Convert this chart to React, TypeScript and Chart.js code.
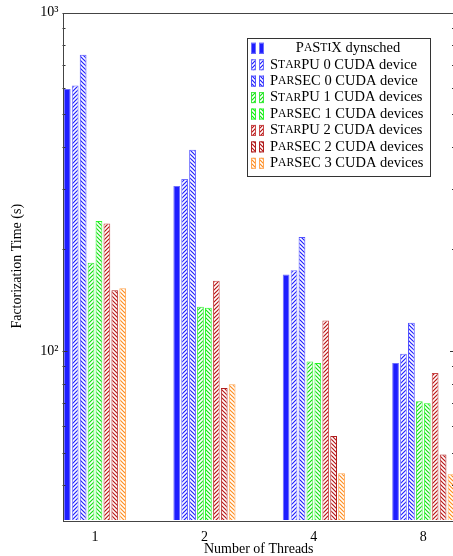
import React, { useEffect, useRef } from 'react';
import { Chart, registerables } from 'chart.js';
Chart.register(...registerables);

const threads = ['1', '2', '4', '8'];
const pastix = [594, 307, 168, 92];
const starpu0 = [608, 322, 173, 98];
const parsec0 = [750, 393, 217, 121];
const starpu1 = [182, 135, 93, 71];
const parsec1 = [242, 134, 92, 70];
const starpu2 = [238, 161, 123, 86];
const parsec2 = [151, 77.6, 56, 49.4];
const parsec3 = [153, 79.6, 43.5, 43.2];

const legendNames = [
  ['PaStiX', ' dynsched'],
  ['StarPU', ' 0 CUDA device'],
  ['ParSEC', ' 0 CUDA device'],
  ['StarPU', ' 1 CUDA devices'],
  ['ParSEC', ' 1 CUDA devices'],
  ['StarPU', ' 2 CUDA devices'],
  ['ParSEC', ' 2 CUDA devices'],
  ['ParSEC', ' 3 CUDA devices'],
];

const FONT = "'Liberation Serif', serif";

export default function App() {
  const ref = useRef<HTMLCanvasElement>(null);
  useEffect(() => {
    const canvas = ref.current!;
    const ctx = canvas.getContext('2d')!;

    const makePattern = (color: string, dir: 'ne' | 'nw') => {
      const c = document.createElement('canvas');
      c.width = 4;
      c.height = 4;
      const g = c.getContext('2d')!;
      g.fillStyle = '#ffffff';
      g.fillRect(0, 0, 4, 4);
      g.strokeStyle = color;
      g.lineWidth = 1.2;
      g.beginPath();
      if (dir === 'ne') {
        g.moveTo(-1, 5); g.lineTo(5, -1);
        g.moveTo(-3, 3); g.lineTo(3, -3);
        g.moveTo(1, 7); g.lineTo(7, 1);
      } else {
        g.moveTo(-1, -1); g.lineTo(5, 5);
        g.moveTo(-3, 1); g.lineTo(3, 7);
        g.moveTo(1, -3); g.lineTo(7, 3);
      }
      g.stroke();
      return ctx.createPattern(c, 'repeat')!;
    };

    const series = [
      { data: pastix, bg: 'rgb(30,30,255)', border: 'rgb(110,110,255)' },
      { data: starpu0, bg: makePattern('rgb(30,30,255)', 'ne'), border: 'rgb(110,110,255)' },
      { data: parsec0, bg: makePattern('rgb(30,30,255)', 'nw'), border: 'rgb(80,80,255)' },
      { data: starpu1, bg: makePattern('rgb(20,225,20)', 'ne'), border: 'rgb(60,235,60)' },
      { data: parsec1, bg: makePattern('rgb(20,225,20)', 'nw'), border: 'rgb(40,250,40)' },
      { data: starpu2, bg: makePattern('rgb(185,20,20)', 'ne'), border: 'rgb(200,70,70)' },
      { data: parsec2, bg: makePattern('rgb(185,20,20)', 'nw'), border: 'rgb(175,30,30)' },
      { data: parsec3, bg: makePattern('rgb(255,140,30)', 'nw'), border: 'rgb(255,165,80)' },
    ];

    const drawSmallCaps = (c: CanvasRenderingContext2D, text: string, x: number, y: number, size: number) => {
      let cx = x;
      for (const ch of text) {
        const lower = ch !== ch.toUpperCase();
        c.font = `${lower ? size * 0.8 : size}px ${FONT}`;
        const t = ch.toUpperCase();
        c.fillText(t, cx, y);
        cx += c.measureText(t).width;
      }
      return cx;
    };
    const measureSmallCaps = (c: CanvasRenderingContext2D, text: string, size: number) => {
      let w = 0;
      for (const ch of text) {
        const lower = ch !== ch.toUpperCase();
        c.font = `${lower ? size * 0.8 : size}px ${FONT}`;
        w += c.measureText(ch.toUpperCase()).width;
      }
      return w;
    };

    const framePlugin = {
      id: 'frameTicks',
      afterDatasetsDraw(chart: any) {
        const c = chart.ctx as CanvasRenderingContext2D;
        const { left, right, top, bottom } = chart.chartArea;
        const ys = chart.scales.y;
        c.save();
        c.strokeStyle = '#333';
        c.lineWidth = 1;
        const tickVals: number[] = [];
        for (let d = 10; d <= 1000; d *= 10) {
          for (let m = 1; m < 10; m++) tickVals.push(m * d);
        }
        tickVals.forEach((v) => {
          if (v < ys.min || v > ys.max) return;
          const py = Math.round(ys.getPixelForValue(v)) + 0.5;
          const major = Math.abs(Math.log10(v) - Math.round(Math.log10(v))) < 1e-9;
          const len = major ? 5 : 3;
          c.beginPath();
          c.moveTo(left, py); c.lineTo(left + len, py);
          c.moveTo(right, py); c.lineTo(right - len, py);
          c.stroke();
        });
        c.strokeStyle = '#444';
        c.strokeRect(Math.round(left) + 0.5, Math.round(top) + 0.5, Math.round(right - left), Math.round(bottom - top));
        c.restore();
      },
      afterDraw(chart: any) {
        const c = chart.ctx as CanvasRenderingContext2D;
        const { right, top } = chart.chartArea;
        const x0 = right - 208, x1 = right - 25, y0 = top + 25, y1 = top + 162.5;
        c.save();
        c.fillStyle = '#fff';
        c.fillRect(x0, y0, x1 - x0, y1 - y0);
        c.strokeStyle = '#333';
        c.lineWidth = 1;
        c.strokeRect(Math.round(x0) + 0.5, Math.round(y0) + 0.5, Math.round(x1 - x0), Math.round(y1 - y0));
        const size = 14.5;
        c.textBaseline = 'middle';
        c.fillStyle = '#000';
        chart.data.datasets.forEach((ds: any, i: number) => {
          const cy = y0 + 10.8 + 16.43 * i;
          [x0 + 4, x0 + 12].forEach((ix) => {
            c.fillStyle = ds.backgroundColor;
            c.fillRect(ix, cy - 5.5, 5, 11);
            c.strokeStyle = ds.borderColor;
            c.strokeRect(ix + 0.5, cy - 5, 4, 10);
          });
          c.fillStyle = '#000';
          const [sc, rest] = legendNames[i];
          let tx = x0 + 23;
          if (i === 0) {
            const w = measureSmallCaps(c, sc, size) + (c.font = `${size}px ${FONT}`, c.measureText(rest).width);
            tx = (x0 + 23 + x1) / 2 - w / 2 - 2;
          }
          const nx = drawSmallCaps(c, sc, tx, cy, size);
          c.font = `${size}px ${FONT}`;
          c.fillText(rest, nx, cy);
        });
        c.restore();
      },
    };

    const chart = new Chart(canvas, {
      type: 'bar',
      data: {
        datasets: series.map((s) => ({
          data: s.data.map((v, i) => ({ x: i, y: v })),
          backgroundColor: s.bg as any,
          borderColor: s.border,
          borderWidth: 1,
          categoryPercentage: 0.579,
          barPercentage: 0.85,
        })),
      },
      options: {
        animation: false,
        responsive: false,
        layout: { padding: { left: 0, top: 12.5, right: 15, bottom: 0 } },
        plugins: { legend: { display: false }, tooltip: { enabled: false } },
        scales: {
          x: {
            type: 'linear',
            offset: false,
            min: -0.297,
            max: 3.29,
            grid: { display: false, drawTicks: false, offset: false },
            border: { display: false },
            afterBuildTicks: (s: any) => {
              s.ticks = threads.map((_, i) => ({ value: i }));
            },
            afterFit: (s: any) => {
              s.height = 36;
            },
            ticks: {
              padding: 9,
              maxRotation: 0,
              autoSkip: false,
              color: '#000',
              font: { family: FONT, size: 14 },
              callback: (v: any) => threads[v as number] ?? '',
            },
            title: {
              display: true,
              text: 'Number of Threads',
              color: '#000',
              font: { family: FONT, size: 14 },
              padding: { top: 0, bottom: -2 },
            },
          },
          y: {
            type: 'logarithmic',
            min: Math.pow(10, 1.5),
            max: 1000,
            grid: { display: false, drawTicks: false },
            border: { display: false },
            afterFit: (s: any) => {
              s.width = 62.5;
            },
            ticks: {
              padding: 4,
              autoSkip: false,
              color: '#000',
              font: { family: FONT, size: 14 },
              callback: (v: any) => (v === 100 ? '10²' : v === 1000 ? '10³' : ''),
            },
            title: {
              display: true,
              text: 'Factorization Time (s)',
              color: '#000',
              font: { family: FONT, size: 14 },
              padding: { top: 8.6, bottom: 0 },
            },
          },
        },
      },
      plugins: [framePlugin],
    });
    return () => chart.destroy();
  }, []);

  return (
    <div style={{ position: 'absolute', left: 0, top: 0, width: 453, height: 556, overflow: 'hidden', background: '#fff' }}>
      <canvas ref={ref} width={470} height={556} style={{ display: 'block' }} />
    </div>
  );
}
